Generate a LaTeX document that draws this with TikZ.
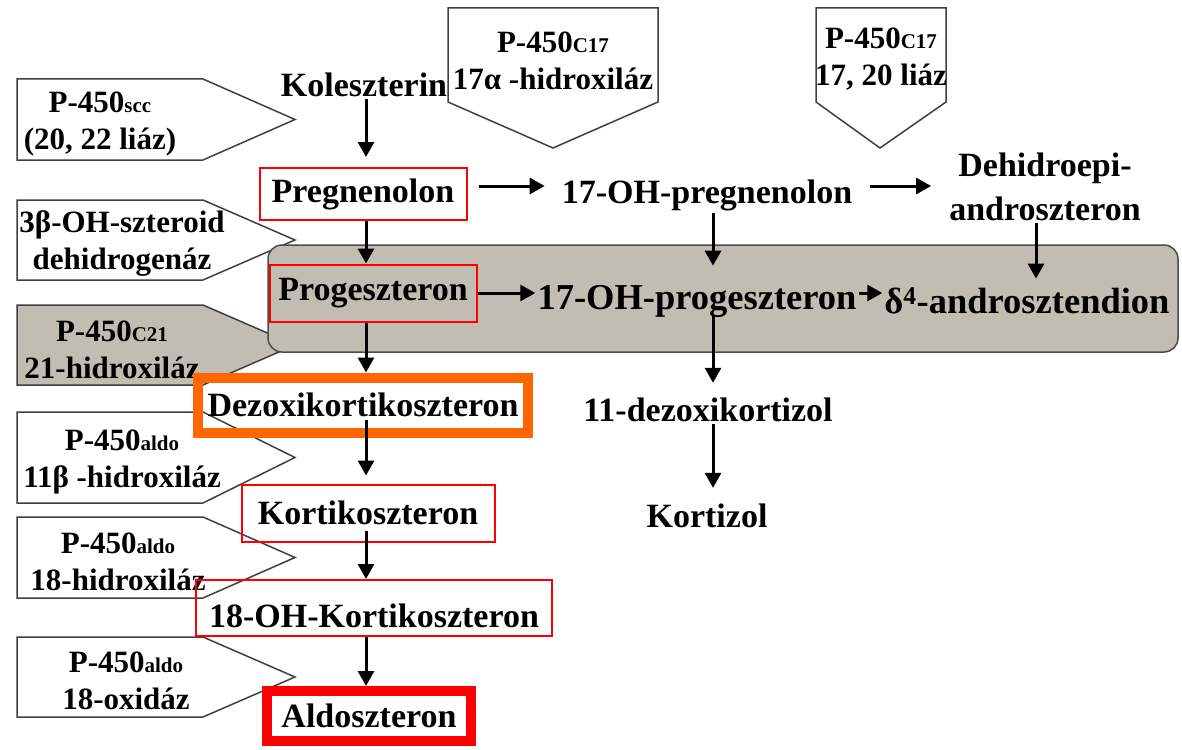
\documentclass[tikz,border=0pt]{standalone}
\usepackage{fontspec}
\setmainfont{Liberation Serif}
\usetikzlibrary{arrows.meta,positioning,calc}
\definecolor{bandgray}{RGB}{193,189,178}
\definecolor{boxorange}{RGB}{255,102,0}
\newcommand{\chemfont}{\fontsize{34}{44}\selectfont\bfseries}
\newcommand{\bandfont}{\fontsize{36.5}{44}\selectfont\bfseries}
\newcommand{\enzfont}{\fontsize{31}{37}\selectfont\bfseries}
\newcommand{\enzsub}[1]{{\fontsize{21}{21}\selectfont #1}}

\begin{document}
\begin{tikzpicture}[x=1pt,y=-1pt,
  chem/.style={font=\chemfont,inner sep=2pt},
  redbox/.style={chem,draw=red,line width=2pt},
  fatbox/.style={chem,line width=10pt},
  enz/.style={draw=black!75,line width=1.5pt,fill=white},
  enztext/.style={font=\enzfont,align=center,inner sep=0pt},
  arr/.style={-{Triangle[length=15pt,width=16pt]},line width=3pt}]
\useasboundingbox (0,0) rectangle (1182,749);
% enzymes on the left
\foreach \n/\yt/\yb/\xt/\txt in {scc/79/160/100/{P-450\enzsub{scc}\\(20, 22 liáz)},
    hsd/200/280/122/{3β-OH-szteroid\\dehidrogenáz},
    hydr11/412/503/122/{P-450\enzsub{aldo}\\11β -hidroxiláz},
    hydr18/517/598/118/{P-450\enzsub{aldo}\\18-hidroxiláz},
    oxid18/637/717/126/{P-450\enzsub{aldo}\\18-oxidáz}}{
  \draw[enz] (17,\yt) -- (203,\yt) -- (295,{(\yt+\yb)/2}) -- (203,\yb) -- (17,\yb) -- cycle;
  \node[enztext] (\n) at (\xt,{(\yt+\yb)/2+4}) {\txt};
}
\draw[enz,fill=bandgray] (17,305) -- (203,305) -- (295,345) -- (203,385) -- (17,385) -- cycle;
\node[enztext] (cyp21) at (112,350) {P-450\enzsub{C21}\\21-hidroxiláz};
% enzymes on top
\draw[enz] (448,8) -- (658,8) -- (658,102) -- (553,148) -- (448,102) -- cycle;
\node[enztext] (hydr17) at (553,61) {P-450\enzsub{C17}\\17α -hidroxiláz};
\draw[enz] (816,8) -- (946,8) -- (946,102) -- (880,148) -- (816,102) -- cycle;
\node[enztext] (lyase) at (881,59) {P-450\enzsub{C17}\\17, 20 liáz};
% gray band
\draw[fill=bandgray,draw=black!70,line width=1.5pt,rounded corners=14pt] (268,245) rectangle (1178,352);
% columns
\coordinate (lcol) at (366,0);
\coordinate (rcol) at (713,0);
\coordinate (dcol) at (1036,0);
% steroids
\node[chem] (kol) at (364,85) {Koleszterin};
\node[redbox,minimum width=207pt,minimum height=52pt] (preg) at (363,194) {Pregnenolon};
\node[chem] (ohpreg) at (707,195) {17-OH-pregnenolon};
\node[chem,align=center] (dhea) at (1045,187) {Dehidroepi-\\androszteron};
\node[redbox,minimum width=207pt,minimum height=57pt] (prog) at (373,293) {Progeszteron};
\node[chem,font=\bandfont] (ohprog) at (697,301) {17-OH-progeszteron};
\node[chem,font=\bandfont] (dfour) at (1027,301) {δ\textsuperscript{4}-androsztendion};
\node[fatbox,draw=boxorange,minimum width=330pt,minimum height=55pt] (doc) at (363,405) {Dezoxikortikoszteron};
\node[chem] (dezox) at (708,410) {11-dezoxikortizol};
\node[chem] (kortizol) at (707,516) {Kortizol};
\node[redbox,minimum width=253pt,minimum height=57pt] (kortiko) at (368,513) {Kortikoszteron};
\node[redbox,minimum width=356pt,minimum height=56pt,text height=40pt] (ohkortiko) at (374,608) {18-OH-Kortikoszteron};
\node[fatbox,draw=red,minimum width=204pt,minimum height=50pt] (aldo) at (369,716) {Aldoszteron};
% left column
\draw[arr,shorten >=10pt] (kol.south -| lcol) -- (preg.north -| lcol);
\draw[arr] (preg.south -| lcol) -- (prog.north -| lcol);
\draw[arr] (prog.south -| lcol) -- (doc.north -| lcol);
\draw[arr,shorten <=-18pt,shorten >=8pt] (doc.south -| lcol) -- (kortiko.north -| lcol);
\draw[arr,shorten <=-12pt] (kortiko.south -| lcol) -- (ohkortiko.north -| lcol);
\draw[arr] (ohkortiko.south -| lcol) -- (aldo.north -| lcol);
% right columns
\draw[arr,shorten >=17pt] (ohpreg.south -| rcol) -- (ohprog.north -| rcol);
\draw[arr,shorten <=-3pt,shorten >=13pt] (ohprog.south -| rcol) -- (dezox.north -| rcol);
\draw[arr,shorten >=14pt] (dezox.south -| rcol) -- (kortizol.north -| rcol);
\draw[arr,shorten >=7pt] (dhea.south -| dcol) -- (dfour.north -| dcol);
% rows
\draw[arr,shorten <=11pt,shorten >=15pt] ([yshift=8pt]preg.east) -- ([yshift=8pt]preg.east -| ohpreg.west);
\draw[arr,shorten <=16pt,shorten >=16pt] ([yshift=9pt]ohpreg.east) -- ([yshift=9pt]ohpreg.east -| dhea.west);
\draw[arr] (prog.east) -- (prog.east -| ohprog.west);
\draw[arr] ([yshift=8pt]ohprog.east) -- ([yshift=8pt]ohprog.east -| dfour.west);
\end{tikzpicture}
\end{document}
